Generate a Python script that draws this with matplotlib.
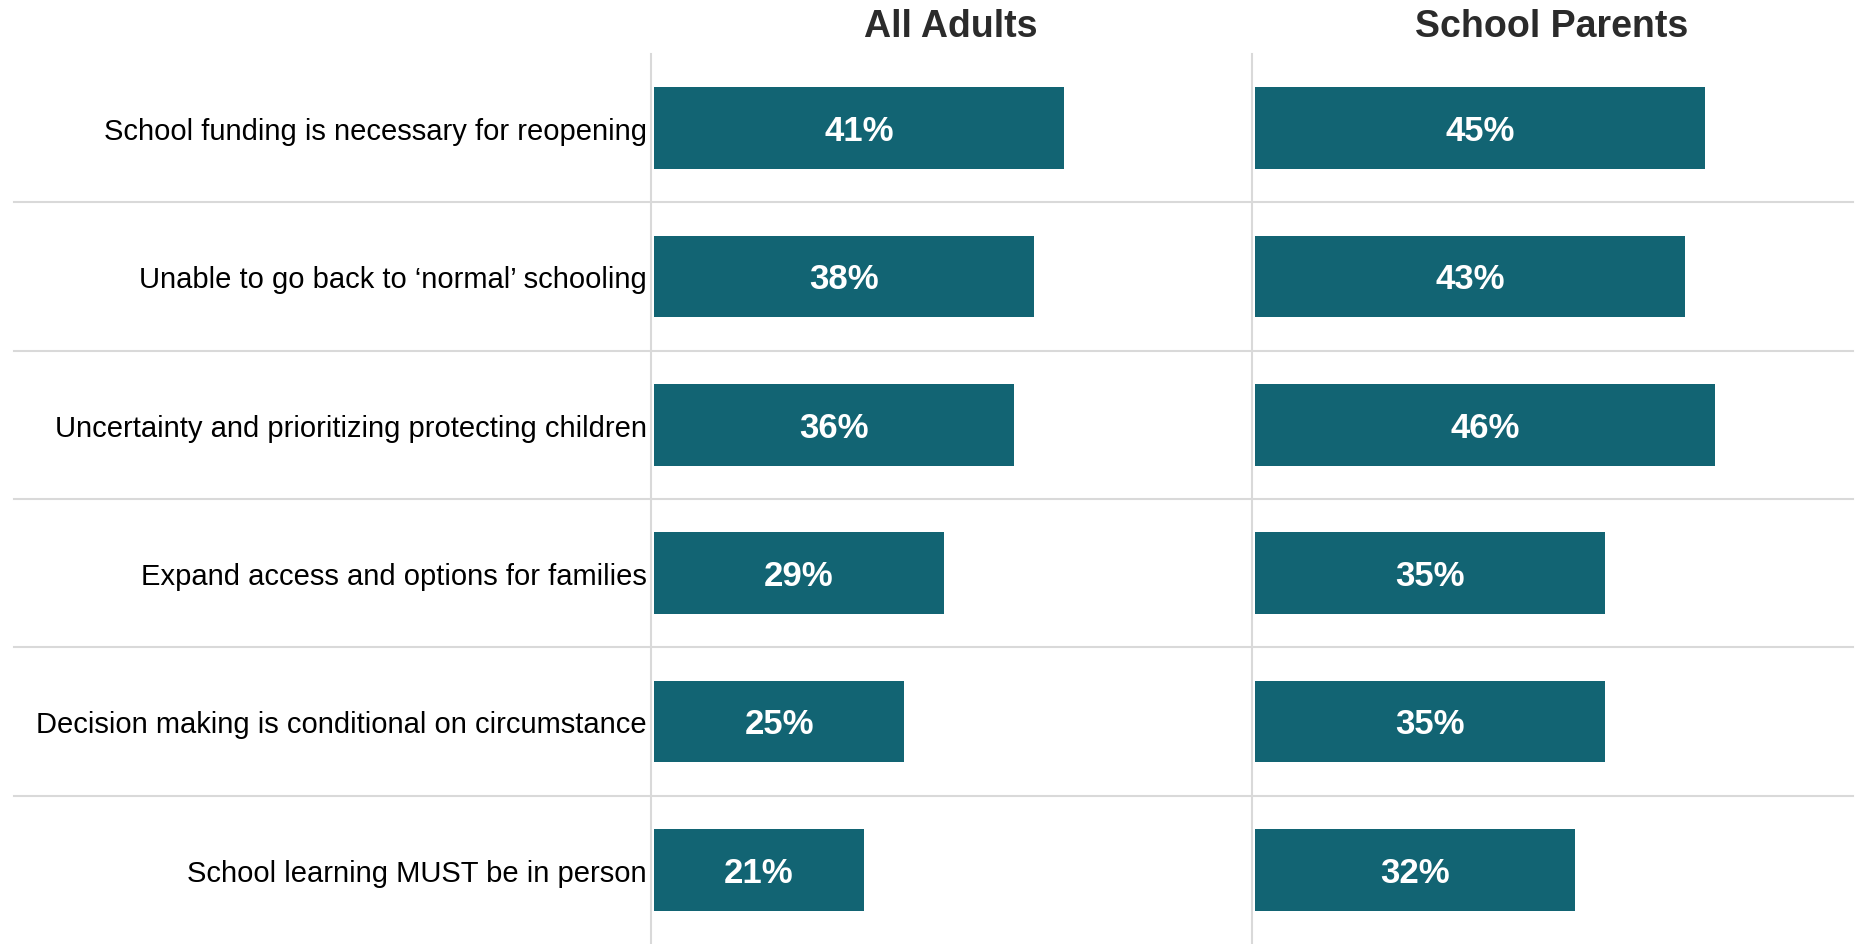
import matplotlib
matplotlib.use('Agg')
import matplotlib.pyplot as plt
from matplotlib.lines import Line2D
import matplotlib.transforms as mtransforms

plt.rcParams['font.family'] = ['Liberation Sans', 'DejaVu Sans']

# данные
reasons = ['School funding is necessary for reopening',
           'Unable to go back to \u2018normal\u2019 schooling',
           'Uncertainty and prioritizing protecting children',
           'Expand access and options for families',
           'Decision making is conditional on circumstance',
           'School learning MUST be in person']
all_adults = [41, 38, 36, 29, 25, 21]
school_parents = [45, 43, 46, 35, 35, 32]
panel_titles = ['All Adults', 'School Parents']

bar_color = '#126473'
grid_color = '#d9d9d9'

W, H = 1861, 945
fig = plt.figure(figsize=(W / 100, H / 100), dpi=100)

top = 55 / H
ax1 = fig.add_axes([651 / W, 0, 600 / W, 1 - top])
ax2 = fig.add_axes([1252 / W, 0, 600 / W, 1 - top])

y = list(range(len(reasons)))
for ax, vals, title in zip([ax1, ax2], [all_adults, school_parents], panel_titles):
    ax.patch.set_visible(False)
    ax.barh(y, vals, height=0.55, color=bar_color, left=0)
    for yi, v in zip(y, vals):
        ax.text(v / 2, yi + 0.015, f'{v}%', ha='center', va='center', color='white',
                fontsize=25, fontweight='bold')
    ax.set_xlim(-0.3, 59.7)
    ax.set_ylim(len(reasons) - 0.5, -0.5)
    for s in ['top', 'right', 'bottom']:
        ax.spines[s].set_visible(False)
    ax.spines['left'].set_color(grid_color)
    ax.spines['left'].set_linewidth(1.5)
    ax.set_xticks([])
    ax.set_title(title, fontsize=27, fontweight='bold', color='#2b2b2b', pad=13)

ax1.set_yticks(y)
ax1.set_yticklabels(reasons, fontsize=21)
ax1.tick_params(axis='y', length=0, pad=3)
ax2.set_yticks([])

# горизонтальные разделители через всю ширину
tr = mtransforms.blended_transform_factory(fig.transFigure, ax1.transData)
for k in range(len(reasons) - 1):
    fig.add_artist(Line2D([14 / W, 1853 / W], [k + 0.5, k + 0.5], transform=tr,
                          color=grid_color, linewidth=1.5, zorder=-1))

fig.savefig('out.png', dpi=100)
